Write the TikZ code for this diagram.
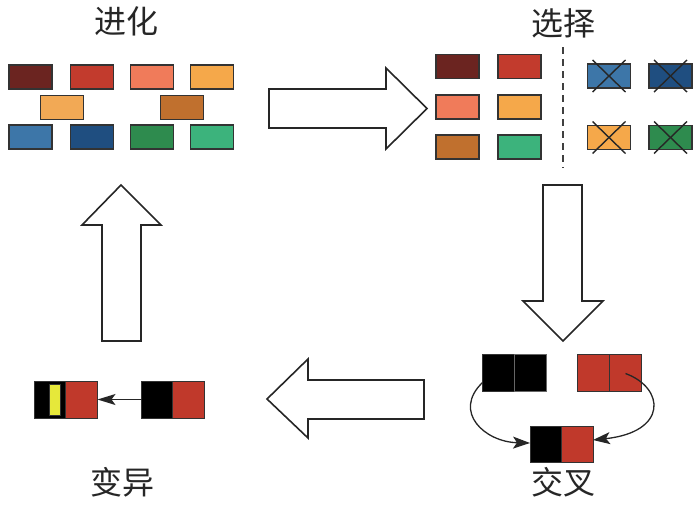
\documentclass[tikz,border=0pt]{standalone}
\usepackage{fontspec}
\newfontfamily\cjk{Noto Sans CJK SC}
\usetikzlibrary{arrows.meta}
\definecolor{cMaroon}{HTML}{6B2420}
\definecolor{cRed}{HTML}{C23B2D}
\definecolor{cSalmon}{HTML}{F07B5A}
\definecolor{cOrange}{HTML}{F5A84A}
\definecolor{cLOrange}{HTML}{F2A955}
\definecolor{cBrown}{HTML}{C0702E}
\definecolor{cSteel}{HTML}{3D76A8}
\definecolor{cNavy}{HTML}{1F4E80}
\definecolor{cGreen}{HTML}{2E8B4E}
\definecolor{cTeal}{HTML}{3CB37C}
\definecolor{cGene}{HTML}{C0392B}
\definecolor{cYellow}{HTML}{E6E83A}
\definecolor{cEdge}{HTML}{333333}
\tikzset{
  chrom/.style={draw=cEdge, line width=1.8pt, minimum width=43pt, minimum height=24pt, inner sep=0pt, outer sep=0pt},
  gene/.style={draw=cEdge, line width=1pt, minimum width=32pt, minimum height=37pt, inner sep=0pt, outer sep=0pt},
  title/.style={font=\cjk\fontsize{32}{34}\selectfont, text=black!85, inner sep=0pt},
  bigarrow/.style={draw=black!85, line width=1.6pt, fill=white, line join=miter},
  cross/.style={draw=black!85, line width=1.4pt},
  link/.style={draw=black!85, line width=1.3pt}
}
\begin{document}
\begin{tikzpicture}[x=1pt,y=-1pt]
\useasboundingbox (0,0) rectangle (700,506);
% titles
\node[title] (tEvo) at (126,21) {进化};
\node[title] (tSel) at (563,23) {选择};
\node[title] (tCro) at (563,482) {交叉};
\node[title] (tMut) at (122,482) {变异};
% evolution population
\node[chrom, fill=cMaroon] (e1) at (30.5,77) {};
\node[chrom, fill=cRed] (e2) at (92,77) {};
\node[chrom, fill=cSalmon] (e3) at (152,77) {};
\node[chrom, fill=cOrange] (e4) at (212,77) {};
\node[chrom, fill=cLOrange] (e5) at (62,107.5) {};
\node[chrom, fill=cBrown] (e6) at (182,107.5) {};
\node[chrom, fill=cSteel] (e7) at (30.5,137) {};
\node[chrom, fill=cNavy] (e8) at (92,137) {};
\node[chrom, fill=cGreen] (e9) at (152,137) {};
\node[chrom, fill=cTeal] (e10) at (212,137) {};
% selection
\node[chrom, fill=cMaroon] (s1) at (457.5,66.5) {};
\node[chrom, fill=cRed] (s2) at (519.5,66.5) {};
\node[chrom, fill=cSalmon] (s3) at (457.5,107) {};
\node[chrom, fill=cOrange] (s4) at (519.5,107) {};
\node[chrom, fill=cBrown] (s5) at (457.5,147) {};
\node[chrom, fill=cTeal] (s6) at (519.5,147) {};
\coordinate (dTop) at (563,47);
\coordinate (dBot) at (563,168);
\draw[draw=black!75, line width=1.5pt, dash pattern=on 7pt off 5pt] (dTop) -- (dBot);
\node[chrom, fill=cSteel] (x1) at (609,76) {};
\node[chrom, fill=cNavy] (x2) at (670.5,76) {};
\node[chrom, fill=cOrange] (x3) at (609,137.5) {};
\node[chrom, fill=cGreen] (x4) at (670.5,137.5) {};
\foreach \n in {x1,x2,x3,x4}{
  \draw[cross] ([shift={(5pt,4pt)}]\n.north west) -- ([shift={(-5pt,-4pt)}]\n.south east);
  \draw[cross] ([shift={(-5pt,4pt)}]\n.north east) -- ([shift={(5pt,-4pt)}]\n.south west);
}
% crossover
\node[gene, fill=black] (p1a) at (498.5,372.5) {};
\node[gene, fill=black, draw=black!60] (p1b) at (530.5,372.5) {};
\node[gene, fill=cGene] (p2a) at (593.5,372.5) {};
\node[gene, fill=cGene] (p2b) at (625.5,372.5) {};
\node[gene, fill=black, minimum height=36pt] (c1) at (546,444) {};
\node[gene, fill=cGene, minimum height=36pt] (c2) at (577,444) {};
\draw[link, arrows={-Stealth[length=17pt,width=12pt,inset=4pt]}] ([yshift=-10pt]p1a.west) .. controls (452,412) and (485,442) .. ([yshift=1pt]c1.west);
\draw[link, arrows={-Stealth[length=17pt,width=12pt,inset=4pt]}] ([yshift=-1pt]p2b.center) .. controls (665,388) and (668,432) .. ([yshift=4pt]c2.east);
% mutation
\node[gene, fill=black] (m1) at (50,399.5) {};
\node[gene, fill=cGene] (m2) at (81.5,399.5) {};
\node[draw=cEdge, line width=0.8pt, fill=cYellow, minimum width=11pt, minimum height=31pt, inner sep=0pt] (mY) at (54.5,400) {};
\node[gene, fill=black] (o1) at (157.5,399.5) {};
\node[gene, fill=cGene] (o2) at (188.5,399.5) {};
\draw[link, arrows={-Stealth[length=18pt,width=11pt,inset=4pt]}] (o1.west) -- (m2.east);
% big arrows
\draw[bigarrow] (269,89) -- (386,89) -- (386,68) -- (427,108.5) -- (386,149) -- (386,128) -- (269,128) -- cycle;
\draw[bigarrow] (543,185) -- (582,185) -- (582,301) -- (603,301) -- (563,341) -- (523,301) -- (543,301) -- cycle;
\draw[bigarrow] (424,380) -- (308,380) -- (308,359) -- (267,399) -- (308,438) -- (308,419) -- (424,419) -- cycle;
\draw[bigarrow] (102,341) -- (102,225) -- (82,225) -- (121,185) -- (161,225) -- (141,225) -- (141,341) -- cycle;
\end{tikzpicture}
\end{document}
